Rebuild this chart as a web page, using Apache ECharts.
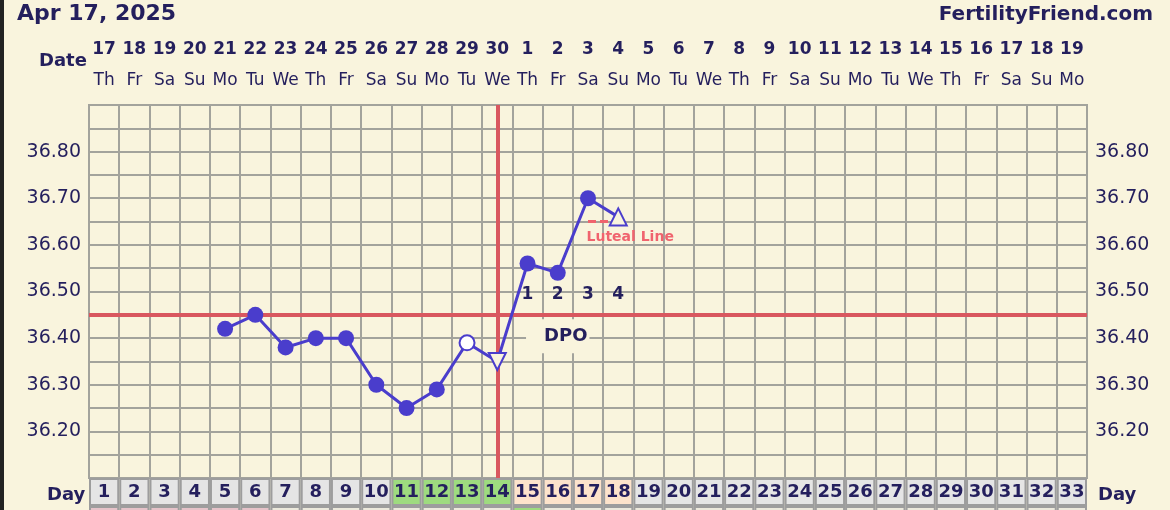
<!DOCTYPE html>
<html>
<head>
<meta charset="utf-8">
<script src="https://cdn.jsdelivr.net/npm/echarts@6/dist/echarts.min.js"></script>
<style>
  html, body { margin: 0; padding: 0; background: #f9f4dd; }
  #chart { width: 1170px; height: 510px; }
  #edge { position: absolute; left: 0; top: 0; width: 4px; height: 510px; background: #222; }
</style>
</head>
<body>
<div id="chart"></div>
<div id="edge"></div>
<script>
// ---- Data ----
const chartDate = 'Apr 17, 2025';
const siteName = 'FertilityFriend.com';
const cycleDays = ['1','2','3','4','5','6','7','8','9','10','11','12','13','14','15','16','17','18','19','20','21','22','23','24','25','26','27','28','29','30','31','32','33'];
const dateNums = ['17','18','19','20','21','22','23','24','25','26','27','28','29','30','1','2','3','4','5','6','7','8','9','10','11','12','13','14','15','16','17','18','19'];
const weekdays = ['Th','Fr','Sa','Su','Mo','Tu','We','Th','Fr','Sa','Su','Mo','Tu','We','Th','Fr','Sa','Su','Mo','Tu','We','Th','Fr','Sa','Su','Mo','Tu','We','Th','Fr','Sa','Su','Mo'];
const temps = [null,null,null,null,36.42,36.45,36.38,36.40,36.40,36.30,36.25,36.29,36.39,36.35,36.56,36.54,36.70,36.66,null,null,null,null,null,null,null,null,null,null,null,null,null,null,null];
const openCircleDays = ['13'];
const downTriangleDays = ['14'];
const upTriangleDays = ['18'];
const coverline = 36.455;
const ovulationDay = '14';
const dpoDays = ['15','16','17','18'];
const dpoLabels = ['1','2','3','4'];
const dpoLabelTemp = 36.4925;
const dpoTitleDay = '16';
const dpoTitleTemp = 36.404;
const lutealDays = ['17','18'];
const lutealTemp = 36.65;
const fertileDays = ['11','12','13','14'];
const lutealPhaseDays = ['15','16','17','18'];
const yTickLabels = ['36.20','36.30','36.40','36.50','36.60','36.70','36.80'];
const bottomPinkDays = ['1','2','3','4','5','6'];
const bottomGreenDays = ['15'];

// ---- Styles ----
const NAVY = '#241f5d';
const BLUE = '#4a3dcc';
const RED = '#d9575f';
const GRID = '#a3a39c';
const CREAM = '#f9f4dd';
const FONT = 'DejaVu Sans';

const chart = echarts.init(document.getElementById('chart'), null, { renderer: 'canvas' });

const lineData = temps.map((t, i) => {
  const d = cycleDays[i];
  if (t === null) return null;
  if (openCircleDays.includes(d)) return { value: t, symbol: 'circle', symbolSize: 15, itemStyle: { color: '#ffffff', borderColor: BLUE, borderWidth: 2 } };
  if (downTriangleDays.includes(d)) return { value: t, symbol: 'triangle', symbolRotate: 180, symbolSize: 17, itemStyle: { color: CREAM, borderColor: BLUE, borderWidth: 2 } };
  if (upTriangleDays.includes(d)) return { value: t, symbol: 'triangle', symbolSize: 17, itemStyle: { color: CREAM, borderColor: BLUE, borderWidth: 2 } };
  return { value: t, symbol: 'circle', symbolSize: 16, itemStyle: { color: BLUE } };
});

const dayCells = cycleDays.map(d => ({
  value: 1,
  itemStyle: { color: fertileDays.includes(d) ? '#9edb7f' : (lutealPhaseDays.includes(d) ? '#fde3cb' : '#e5e5e5') }
}));
const bottomCells = cycleDays.map(d => ({
  value: 1,
  itemStyle: { color: bottomPinkDays.includes(d) ? '#e6c3c9' : (bottomGreenDays.includes(d) ? '#9edb7f' : '#ece9dc') }
}));

const yFmt = v => {
  const s = Number(v).toFixed(2);
  return yTickLabels.includes(s) ? s : '';
};

const gridLeft = 89, gridRight = 83;
const hidden = { color: 'transparent', opacity: 1 };

const option = {
  backgroundColor: CREAM,
  animation: false,
  textStyle: { fontFamily: FONT },
  title: [
    { text: chartDate, left: 12, top: -2, textStyle: { color: NAVY, fontSize: 22, fontWeight: 'bold', fontFamily: FONT } },
    { text: siteName, right: 12, top: 0, textStyle: { color: NAVY, fontSize: 20, fontWeight: 'bold', fontFamily: FONT } },
    { text: 'Date', left: 34, top: 47, textStyle: { color: NAVY, fontSize: 18, fontWeight: 'bold', fontFamily: FONT } },
    { text: 'Day', left: 42, top: 481, textStyle: { color: NAVY, fontSize: 18, fontWeight: 'bold', fontFamily: FONT } },
    { text: 'Day', left: 1093, top: 481, textStyle: { color: NAVY, fontSize: 18, fontWeight: 'bold', fontFamily: FONT } }
  ],
  grid: [
    { left: gridLeft, right: gridRight, top: 105, height: 373, show: true, backgroundColor: CREAM, borderColor: GRID, borderWidth: 2 },
    { left: gridLeft, right: gridRight, top: 478, height: 28 },
    { left: gridLeft, right: gridRight, top: 506, height: 30 }
  ],
  xAxis: [
    { type: 'category', gridIndex: 0, data: cycleDays, boundaryGap: true,
      axisLine: { show: false }, axisTick: { show: false }, axisLabel: { show: false },
      splitLine: { show: true, interval: 0, lineStyle: { color: GRID, width: 2 } } },
    { type: 'category', gridIndex: 0, data: dateNums, position: 'top', offset: 47, boundaryGap: true,
      axisLine: { show: false }, axisTick: { show: false }, splitLine: { show: false },
      axisLabel: { interval: 0, margin: 0, color: NAVY, fontSize: 17, fontWeight: 'bold', fontFamily: FONT, verticalAlign: 'bottom' } },
    { type: 'category', gridIndex: 0, data: weekdays, position: 'top', offset: 16, boundaryGap: true,
      axisLine: { show: false }, axisTick: { show: false }, splitLine: { show: false },
      axisLabel: { interval: 0, margin: 0, color: NAVY, fontSize: 17, fontFamily: FONT, verticalAlign: 'bottom' } },
    { type: 'category', gridIndex: 1, data: cycleDays, boundaryGap: true, position: 'top', z: 10,
      axisLine: { show: false }, axisTick: { show: false }, splitLine: { show: false },
      axisLabel: { inside: true, interval: 0, margin: 5, color: NAVY, fontSize: 18, fontWeight: 'bold', fontFamily: FONT, verticalAlign: 'top' } },
    { type: 'category', gridIndex: 2, data: cycleDays, boundaryGap: true,
      axisLine: { show: false }, axisTick: { show: false }, axisLabel: { show: false }, splitLine: { show: false } }
  ],
  yAxis: [
    { type: 'value', gridIndex: 0, min: 36.10, max: 36.90, interval: 0.05, position: 'left',
      axisLine: { show: false }, axisTick: { show: false },
      splitLine: { show: true, lineStyle: { color: GRID, width: 2 } },
      axisLabel: { formatter: yFmt, margin: 8, color: NAVY, fontSize: 19, fontFamily: FONT } },
    { type: 'value', gridIndex: 0, min: 36.10, max: 36.90, interval: 0.05, position: 'right',
      axisLine: { show: false }, axisTick: { show: false }, splitLine: { show: false },
      axisLabel: { formatter: yFmt, margin: 8, color: NAVY, fontSize: 19, fontFamily: FONT } },
    { type: 'value', gridIndex: 1, min: 0, max: 1, show: false },
    { type: 'value', gridIndex: 2, min: 0, max: 1, show: false }
  ],
  series: [
    { // reference lines
      type: 'line', xAxisIndex: 0, yAxisIndex: 0, data: [], z: 3,
      markLine: {
        silent: true, symbol: 'none', animation: false,
        label: { show: false },
        lineStyle: { color: RED, width: 4, type: 'solid' },
        data: [ { yAxis: coverline }, { xAxis: ovulationDay } ]
      }
    },
    { // luteal line
      type: 'line', xAxisIndex: 0, yAxisIndex: 0, z: 4,
      data: cycleDays.map(d => lutealDays.includes(d) ? lutealTemp : null),
      symbol: 'none', lineStyle: { color: '#f0646e', width: 3, type: [8, 4] }
    },
    { // luteal label
      type: 'scatter', xAxisIndex: 0, yAxisIndex: 0, z: 4, symbolSize: 1,
      itemStyle: hidden,
      data: [[lutealDays[0], lutealTemp]],
      label: { show: true, position: [-1, 9], formatter: 'Luteal Line', color: '#f0646e', fontSize: 14, fontWeight: 'bold', fontFamily: FONT, align: 'left', verticalAlign: 'top', textBorderWidth: 0 }
    },
    { // temperatures
      type: 'line', xAxisIndex: 0, yAxisIndex: 0, z: 5,
      data: lineData, connectNulls: false,
      lineStyle: { color: BLUE, width: 3 },
      itemStyle: { color: BLUE }
    },
    { // DPO numbers
      type: 'scatter', xAxisIndex: 0, yAxisIndex: 0, z: 5, symbolSize: 1,
      itemStyle: hidden,
      data: dpoDays.map((d, i) => ({ value: [d, dpoLabelTemp], label: { formatter: dpoLabels[i] } })),
      label: { show: true, position: 'inside', color: NAVY, fontSize: 17, fontWeight: 'bold', fontFamily: FONT, textBorderWidth: 0 }
    },
    { // DPO title
      type: 'scatter', xAxisIndex: 0, yAxisIndex: 0, z: 5, symbolSize: 1,
      itemStyle: hidden,
      data: [[dpoTitleDay, dpoTitleTemp]],
      label: { show: true, position: 'inside', offset: [0, 0], formatter: 'DPO', color: NAVY, fontSize: 18, fontWeight: 'bold', fontFamily: FONT,
               backgroundColor: CREAM, padding: [8, 2, 8, 18], textBorderWidth: 0 }
    },
    { // Day row cells
      type: 'bar', xAxisIndex: 3, yAxisIndex: 2, data: dayCells, barWidth: '100%', barCategoryGap: 0, z: 2,
      itemStyle: { borderColor: '#9d9d9d', borderWidth: 2 }
    },
    { // bottom row cells
      type: 'bar', xAxisIndex: 4, yAxisIndex: 3, data: bottomCells, barWidth: '100%', barCategoryGap: 0,
      itemStyle: { borderColor: '#9d9d9d', borderWidth: 2 }
    }
  ]
};

chart.setOption(option);
</script>
</body>
</html>
